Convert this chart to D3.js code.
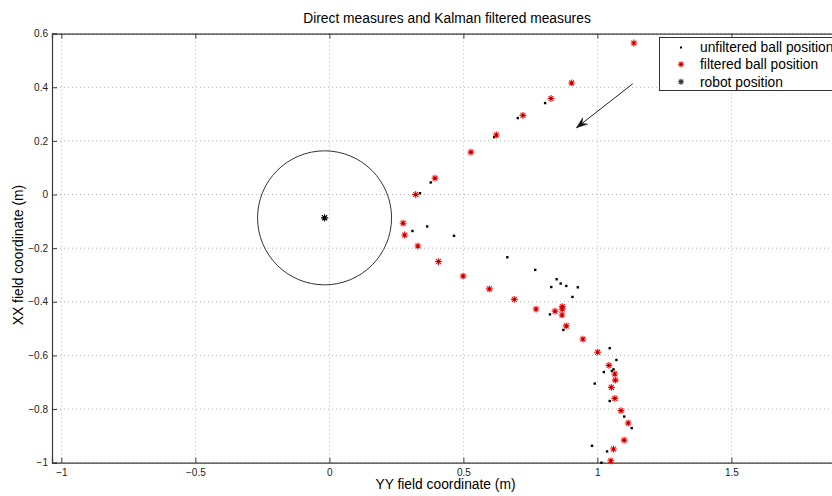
<!DOCTYPE html>
<html>
<head>
<meta charset="utf-8">
<script src="https://cdn.jsdelivr.net/npm/d3@7"></script>
<style>
  html, body { margin: 0; padding: 0; background: #fff; }
  svg { display: block; font-family: "Liberation Sans", Arial, Helvetica, sans-serif; }
</style>
</head>
<body>
<svg id="chart" width="832" height="496"></svg>
<script>
// ---------- data ----------
const filteredY = [1.136, 0.904, 0.827, 0.722, 0.623, 0.528, 0.394, 0.322, 0.275, 0.281, 0.330, 0.407, 0.499, 0.597, 0.690, 0.771, 0.842, 0.869, 0.869, 0.868, 0.884, 0.946, 1.001, 1.043, 1.065, 1.067, 1.052, 1.065, 1.088, 1.115, 1.100, 1.060, 1.050];
const filteredX = [0.565, 0.416, 0.358, 0.295, 0.222, 0.158, 0.061, 0.000, -0.107, -0.151, -0.192, -0.250, -0.304, -0.352, -0.391, -0.427, -0.435, -0.418, -0.427, -0.449, -0.490, -0.539, -0.588, -0.637, -0.669, -0.692, -0.719, -0.760, -0.806, -0.852, -0.916, -0.949, -0.993];
const rawY = [0.805, 0.703, 0.615, 0.378, 0.338, 0.365, 0.310, 0.465, 0.664, 0.768, 0.848, 0.863, 0.828, 0.884, 0.927, 0.907, 0.823, 0.873, 1.046, 1.071, 1.060, 1.054, 1.024, 0.990, 1.046, 1.100, 1.128, 0.980, 1.036, 1.015];
const rawX = [0.341, 0.285, 0.214, 0.045, 0.005, -0.119, -0.136, -0.154, -0.234, -0.281, -0.316, -0.332, -0.345, -0.341, -0.346, -0.382, -0.447, -0.505, -0.573, -0.617, -0.652, -0.658, -0.662, -0.705, -0.770, -0.828, -0.871, -0.937, -0.958, -1.000];
const robotPos = [-0.018, -0.087];   // [YY, XX]
const robotRadius = [0.25];
const arrowFrom = [1.132, 0.413];
const arrowTo = [0.922, 0.249];
const xTicks = [-1, -0.5, 0, 0.5, 1, 1.5];
const yTicks = [-1, -0.8, -0.6, -0.4, -0.2, 0, 0.2, 0.4, 0.6];
const legendLabels = ["unfiltered ball position", "filtered ball position", "robot position"];
const titleText = "Direct measures and Kalman filtered measures";
const xLabel = "YY field coordinate (m)";
const yLabel = "XX field coordinate (m)";

// ---------- layout ----------
const svg = d3.select("#chart");
const L = 52, T = 33.6, B = 462.7, R = 852;
const x = d3.scaleLinear().domain([-1.035, 1.95]).range([L, R]);
const y = d3.scaleLinear().domain([-1, 0.6]).range([B, T]);
const fmt = v => (v < 0 ? "\u2212" : "") + d3.format("")(Math.abs(v));

const axisCol = "#3a3a3a";
const labelSize = "13.8px";

// grid
const grid = svg.append("g");
xTicks.forEach(t => grid.append("line")
  .attr("x1", x(t)).attr("x2", x(t)).attr("y1", T).attr("y2", B)
  .attr("stroke", "#b0b0b0").attr("stroke-width", 1).attr("stroke-dasharray", "1,3"));
yTicks.forEach(t => grid.append("line")
  .attr("x1", L).attr("x2", R).attr("y1", y(t)).attr("y2", y(t))
  .attr("stroke", "#b0b0b0").attr("stroke-width", 1).attr("stroke-dasharray", "1,3"));

// axes (inward ticks, MATLAB style)
const xAxisB = d3.axisBottom(x).tickValues(xTicks).tickSize(-5).tickPadding(8).tickFormat(fmt);
const xAxisT = d3.axisTop(x).tickValues(xTicks).tickSize(-5).tickFormat("");
const yAxisL = d3.axisLeft(y).tickValues(yTicks).tickSize(-5).tickPadding(8).tickFormat(fmt);

const gxb = svg.append("g").attr("transform", `translate(0,${B})`).call(xAxisB);
const gxt = svg.append("g").attr("transform", `translate(0,${T})`).call(xAxisT);
const gyl = svg.append("g").attr("transform", `translate(${L},0)`).call(yAxisL);
[gxb, gxt, gyl].forEach(g => {
  g.select(".domain").attr("stroke", axisCol).attr("stroke-width", 1.2);
  g.selectAll(".tick line").attr("stroke", axisCol);
  g.selectAll("text").attr("fill", "#222").style("font-size", "10px")
   .style("font-family", "'Liberation Sans', Arial, sans-serif");
});
gyl.selectAll(".tick text").attr("dy", "0.32em").attr("x", -4);
gxb.selectAll(".tick text").attr("dy", "0.71em").attr("y", 6);

// robot circle
svg.append("circle")
  .attr("cx", x(robotPos[0])).attr("cy", y(robotPos[1]))
  .attr("r", x(robotRadius[0]) - x(0))
  .attr("fill", "none").attr("stroke", "#333").attr("stroke-width", 1);

// star path
function starPath(cx, cy, r) {
  const d = r * 0.72;
  return `M${cx - r},${cy}L${cx + r},${cy}M${cx},${cy - r}L${cx},${cy + r}` +
         `M${cx - d},${cy - d}L${cx + d},${cy + d}M${cx - d},${cy + d}L${cx + d},${cy - d}`;
}

// unfiltered points
const rawPts = rawY.map((v, i) => [v, rawX[i]]);
svg.append("g").selectAll("rect").data(rawPts).join("rect")
  .attr("x", d => x(d[0]) - 1.2).attr("y", d => y(d[1]) - 1.2)
  .attr("width", 2.4).attr("height", 2.4).attr("fill", "#000");

// filtered points
const filtPts = filteredY.map((v, i) => [v, filteredX[i]]);
const fg = svg.append("g");
fg.selectAll("path").data(filtPts).join("path")
  .attr("d", d => starPath(x(d[0]), y(d[1]), 3.4))
  .attr("stroke", "#ff0000").attr("stroke-width", 1.1).attr("fill", "none");
fg.selectAll("rect").data(filtPts).join("rect")
  .attr("x", d => x(d[0]) - 0.9).attr("y", d => y(d[1]) - 0.9)
  .attr("width", 1.8).attr("height", 1.8).attr("fill", "#600");

// robot position
svg.append("path").attr("d", starPath(x(robotPos[0]), y(robotPos[1]), 3.6))
  .attr("stroke", "#000").attr("stroke-width", 1.1).attr("fill", "none");

// arrow
const ax1 = x(arrowFrom[0]), ay1 = y(arrowFrom[1]), ax2 = x(arrowTo[0]), ay2 = y(arrowTo[1]);
svg.append("line").attr("x1", ax1).attr("y1", ay1).attr("x2", ax2).attr("y2", ay2)
  .attr("stroke", "#222").attr("stroke-width", 1);
{
  const ang = Math.atan2(ay2 - ay1, ax2 - ax1);
  const len = 11, wid = 4, back = 7;
  const ux = Math.cos(ang), uy = Math.sin(ang);
  const px = -uy, py = ux;
  const p1 = [ax2 - ux * len + px * wid, ay2 - uy * len + py * wid];
  const p2 = [ax2 - ux * len - px * wid, ay2 - uy * len - py * wid];
  const p3 = [ax2 - ux * back, ay2 - uy * back];
  svg.append("path").attr("d", `M${ax2},${ay2}L${p1[0]},${p1[1]}L${p3[0]},${p3[1]}L${p2[0]},${p2[1]}Z`)
    .attr("fill", "#111").attr("stroke", "#111").attr("stroke-width", 0.5);
}

// legend
const lg = svg.append("g");
lg.append("rect").attr("x", 659.5).attr("y", 37.5).attr("width", 200).attr("height", 53)
  .attr("fill", "#fff").attr("stroke", "#333").attr("stroke-width", 1);
const rowsY = [47.5, 64.3, 81.7];
lg.append("rect").attr("x", 680).attr("y", rowsY[0] - 1).attr("width", 2).attr("height", 2).attr("fill", "#000");
lg.append("path").attr("d", starPath(681, rowsY[1], 3)).attr("stroke", "#ff0000").attr("stroke-width", 1.1).attr("fill", "none");
lg.append("rect").attr("x", 680.2).attr("y", rowsY[1] - 0.8).attr("width", 1.6).attr("height", 1.6).attr("fill", "#600");
lg.append("path").attr("d", starPath(681, rowsY[2], 3)).attr("stroke", "#333").attr("stroke-width", 1.1).attr("fill", "none");
legendLabels.forEach((t, i) => lg.append("text").attr("x", 700).attr("y", rowsY[i]).attr("dy", "0.35em")
  .style("font-size", labelSize).attr("fill", "#000").text(t));

// titles
svg.append("text").attr("x", 447).attr("y", 23).attr("text-anchor", "middle")
  .style("font-size", labelSize).attr("fill", "#000").text(titleText);
svg.append("text").attr("x", 445.5).attr("y", 489).attr("text-anchor", "middle")
  .style("font-size", labelSize).attr("fill", "#000").text(xLabel);
svg.append("text").attr("transform", `translate(23,255) rotate(-90)`).attr("text-anchor", "middle")
  .style("font-size", labelSize).attr("fill", "#000").text(yLabel);
</script>
</body>
</html>
